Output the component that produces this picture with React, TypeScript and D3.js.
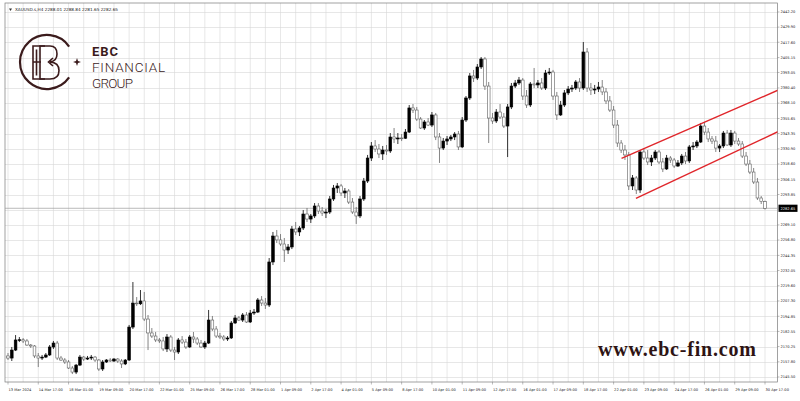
import { useEffect, useRef } from 'react';
import * as d3 from 'd3';

// H4 bars, oldest first: [open, high, low, close]
const candles: [number, number, number, number][] = [
  [2162.6, 2165.0, 2159.3, 2160.9], [2160.9, 2169.9, 2158.5, 2167.4], [2167.4, 2179.6, 2166.6, 2175.6], [2175.6, 2178.0, 2173.9, 2175.8],
  [2175.8, 2177.2, 2173.1, 2174.8], [2174.8, 2176.4, 2170.7, 2171.5], [2171.5, 2172.3, 2169.1, 2170.7], [2170.7, 2171.5, 2160.9, 2162.6],
  [2162.6, 2165.0, 2153.6, 2160.9], [2160.9, 2163.4, 2159.3, 2161.7], [2161.7, 2165.0, 2160.9, 2163.4], [2163.4, 2171.5, 2162.6, 2169.9],
  [2169.9, 2174.8, 2168.3, 2173.1], [2173.1, 2174.8, 2159.3, 2160.9], [2160.9, 2162.6, 2158.5, 2159.3], [2159.3, 2160.9, 2156.1, 2157.7],
  [2157.7, 2159.3, 2152.0, 2152.8], [2152.8, 2154.4, 2147.9, 2149.5], [2149.5, 2156.1, 2147.9, 2155.2], [2155.2, 2163.4, 2154.4, 2161.7],
  [2161.7, 2162.6, 2158.5, 2160.1], [2160.1, 2162.6, 2159.3, 2160.9], [2160.9, 2163.4, 2159.3, 2161.7], [2161.7, 2162.6, 2157.7, 2159.3],
  [2159.3, 2160.1, 2150.4, 2152.0], [2152.0, 2159.3, 2150.4, 2157.7], [2157.7, 2160.1, 2156.9, 2159.3], [2159.3, 2160.9, 2157.7, 2158.5],
  [2158.5, 2160.9, 2157.7, 2160.1], [2160.1, 2160.9, 2156.9, 2158.5], [2158.5, 2160.1, 2152.8, 2156.1], [2156.1, 2160.1, 2155.2, 2159.3],
  [2159.3, 2187.8, 2158.5, 2186.1], [2186.1, 2222.7, 2184.5, 2205.6], [2205.6, 2210.5, 2203.2, 2205.0], [2205.0, 2216.2, 2204.0, 2207.3],
  [2207.3, 2214.6, 2191.0, 2192.6], [2192.6, 2195.9, 2167.4, 2181.3], [2181.3, 2185.3, 2177.2, 2178.8], [2178.8, 2182.1, 2173.9, 2175.6],
  [2175.6, 2177.2, 2173.1, 2174.8], [2174.8, 2178.0, 2166.6, 2168.3], [2168.3, 2180.4, 2165.8, 2178.0], [2178.0, 2179.6, 2165.8, 2167.4],
  [2167.4, 2169.9, 2159.3, 2165.8], [2165.8, 2177.2, 2164.2, 2175.6], [2175.6, 2178.8, 2172.3, 2173.9], [2173.9, 2176.4, 2168.3, 2169.9],
  [2169.9, 2179.6, 2169.1, 2178.0], [2178.0, 2182.1, 2173.1, 2176.4], [2176.4, 2178.0, 2171.5, 2173.1], [2173.1, 2175.6, 2169.1, 2169.9],
  [2169.9, 2174.8, 2168.3, 2173.1], [2173.1, 2200.0, 2172.3, 2191.8], [2191.8, 2195.1, 2182.9, 2184.5], [2184.5, 2186.9, 2177.2, 2178.8],
  [2178.8, 2181.3, 2176.4, 2178.0], [2178.0, 2179.6, 2174.8, 2176.4], [2176.4, 2178.8, 2174.8, 2177.2], [2177.2, 2191.0, 2176.4, 2189.4],
  [2189.4, 2195.9, 2188.6, 2193.5], [2193.5, 2195.1, 2191.0, 2191.8], [2191.8, 2197.5, 2190.2, 2195.9], [2195.9, 2198.3, 2189.4, 2190.2],
  [2190.2, 2200.0, 2189.4, 2197.5], [2197.5, 2200.8, 2195.9, 2198.3], [2198.3, 2209.7, 2197.5, 2208.1], [2208.1, 2211.3, 2203.2, 2205.6],
  [2205.6, 2209.7, 2200.8, 2204.0], [2204.0, 2242.2, 2202.4, 2239.0], [2239.0, 2263.4, 2236.5, 2260.1], [2260.1, 2265.0, 2254.4, 2256.9],
  [2256.9, 2261.7, 2252.0, 2253.6], [2253.6, 2258.5, 2239.0, 2248.7], [2248.7, 2253.6, 2245.5, 2251.2], [2251.2, 2268.2, 2249.5, 2265.8],
  [2265.8, 2271.5, 2260.9, 2263.4], [2263.4, 2268.2, 2260.1, 2266.6], [2266.6, 2281.2, 2265.0, 2278.0], [2278.0, 2282.9, 2271.5, 2273.9],
  [2273.9, 2278.0, 2270.7, 2276.4], [2276.4, 2286.9, 2274.7, 2284.5], [2284.5, 2286.9, 2278.0, 2280.4], [2280.4, 2283.7, 2276.4, 2278.8],
  [2278.8, 2282.1, 2274.7, 2279.6], [2279.6, 2292.6, 2278.0, 2290.2], [2290.2, 2301.6, 2288.6, 2299.1], [2299.1, 2303.2, 2295.1, 2300.8],
  [2300.8, 2302.4, 2292.6, 2295.1], [2295.1, 2299.1, 2291.0, 2296.7], [2296.7, 2298.3, 2286.1, 2287.7], [2287.7, 2291.0, 2278.0, 2279.6],
  [2279.6, 2283.7, 2269.9, 2276.4], [2276.4, 2292.6, 2274.7, 2290.2], [2290.2, 2307.3, 2288.6, 2304.8], [2304.8, 2326.0, 2303.2, 2323.5],
  [2323.5, 2336.5, 2321.1, 2333.3], [2333.3, 2338.1, 2328.4, 2330.8], [2330.8, 2334.9, 2323.5, 2326.8], [2326.8, 2333.3, 2321.9, 2330.0],
  [2330.0, 2334.1, 2326.0, 2329.2], [2329.2, 2343.8, 2327.6, 2340.6], [2340.6, 2347.9, 2335.7, 2339.0], [2339.0, 2343.8, 2334.9, 2339.8],
  [2339.8, 2343.0, 2337.3, 2339.6], [2339.6, 2347.1, 2339.0, 2344.6], [2344.6, 2366.6, 2343.8, 2364.2], [2364.2, 2367.4, 2360.1, 2362.5],
  [2362.5, 2365.0, 2353.6, 2355.2], [2355.2, 2356.8, 2347.1, 2347.9], [2347.9, 2354.4, 2346.3, 2352.8], [2352.8, 2356.0, 2349.5, 2350.3],
  [2350.3, 2360.9, 2348.7, 2358.5], [2358.5, 2360.1, 2338.1, 2340.6], [2340.6, 2343.8, 2319.5, 2331.6], [2331.6, 2339.8, 2330.0, 2337.3],
  [2337.3, 2341.4, 2334.1, 2339.0], [2339.0, 2342.2, 2337.3, 2340.6], [2340.6, 2344.6, 2338.1, 2343.0], [2343.0, 2345.5, 2330.0, 2332.5],
  [2332.5, 2356.8, 2331.6, 2354.4], [2354.4, 2373.9, 2352.8, 2372.3], [2372.3, 2392.6, 2370.7, 2390.2], [2390.2, 2395.1, 2385.3, 2388.5],
  [2388.5, 2399.9, 2386.9, 2397.5], [2397.5, 2405.6, 2395.9, 2404.0], [2404.0, 2405.6, 2378.8, 2382.0], [2382.0, 2385.3, 2335.7, 2356.0],
  [2356.0, 2360.1, 2351.2, 2353.6], [2353.6, 2363.3, 2352.0, 2360.9], [2360.9, 2367.4, 2355.2, 2356.8], [2356.8, 2360.1, 2347.9, 2349.5],
  [2349.5, 2367.4, 2324.3, 2365.0], [2365.0, 2384.5, 2363.3, 2382.0], [2382.0, 2386.9, 2380.4, 2384.5], [2384.5, 2389.4, 2382.9, 2386.9],
  [2386.9, 2388.5, 2370.7, 2373.9], [2373.9, 2378.8, 2364.2, 2366.6], [2366.6, 2385.3, 2365.0, 2383.7], [2383.7, 2396.7, 2380.4, 2382.9],
  [2382.9, 2386.9, 2380.4, 2384.5], [2384.5, 2388.5, 2378.8, 2380.4], [2380.4, 2395.1, 2378.8, 2392.6], [2392.6, 2396.7, 2391.0, 2393.4],
  [2393.4, 2395.1, 2370.7, 2373.9], [2373.9, 2377.2, 2354.4, 2358.5], [2358.5, 2369.9, 2357.7, 2366.6], [2366.6, 2378.8, 2365.0, 2376.4],
  [2376.4, 2382.0, 2374.7, 2379.6], [2379.6, 2382.9, 2377.2, 2380.4], [2380.4, 2386.9, 2378.8, 2385.3], [2385.3, 2388.5, 2377.2, 2380.4],
  [2380.4, 2417.8, 2378.8, 2409.7], [2409.7, 2412.9, 2377.2, 2380.4], [2380.4, 2384.5, 2374.7, 2378.8], [2378.8, 2382.9, 2375.5, 2379.6],
  [2379.6, 2385.3, 2377.2, 2381.2], [2381.2, 2386.9, 2374.7, 2377.2], [2377.2, 2380.4, 2367.4, 2369.9], [2369.9, 2373.9, 2360.9, 2362.5],
  [2362.5, 2365.8, 2347.9, 2350.3], [2350.3, 2354.4, 2332.5, 2335.7], [2335.7, 2338.1, 2327.6, 2330.0], [2330.0, 2334.1, 2321.9, 2326.0],
  [2326.0, 2328.4, 2297.5, 2300.8], [2300.8, 2309.7, 2297.5, 2307.3], [2307.3, 2308.9, 2294.2, 2297.5], [2297.5, 2330.0, 2295.1, 2328.4],
  [2328.4, 2331.6, 2321.9, 2323.5], [2323.5, 2330.0, 2317.8, 2320.3], [2320.3, 2326.0, 2317.0, 2323.5], [2323.5, 2330.0, 2321.9, 2328.4],
  [2328.4, 2330.0, 2318.6, 2320.3], [2320.3, 2323.5, 2312.1, 2314.6], [2314.6, 2326.0, 2313.8, 2323.5], [2323.5, 2325.1, 2319.5, 2321.9],
  [2321.9, 2323.5, 2315.4, 2317.0], [2317.0, 2321.9, 2316.2, 2319.5], [2319.5, 2326.8, 2317.8, 2325.1], [2325.1, 2328.4, 2318.6, 2321.1],
  [2321.1, 2334.1, 2319.5, 2332.5], [2332.5, 2336.5, 2330.0, 2333.3], [2333.3, 2338.1, 2331.6, 2336.5], [2336.5, 2352.0, 2335.7, 2349.5],
  [2349.5, 2352.8, 2342.2, 2344.6], [2344.6, 2347.9, 2336.5, 2339.0], [2339.0, 2341.4, 2334.9, 2337.3], [2337.3, 2341.4, 2328.4, 2331.6],
  [2331.6, 2334.9, 2328.4, 2333.3], [2333.3, 2345.5, 2331.6, 2343.8], [2343.8, 2346.3, 2333.3, 2334.1], [2334.1, 2346.3, 2332.5, 2343.8],
  [2343.8, 2345.5, 2334.9, 2337.3], [2337.3, 2339.8, 2333.3, 2334.9], [2334.9, 2337.3, 2323.5, 2325.1], [2325.1, 2328.4, 2317.0, 2318.6],
  [2318.6, 2321.9, 2310.5, 2312.1], [2312.1, 2315.4, 2302.4, 2304.0], [2304.0, 2307.3, 2289.4, 2291.0], [2291.0, 2292.6, 2286.1, 2288.0],
  [2288.01, 2288.84, 2281.65, 2282.65],
];

const priceTicks = [
  2442.20, 2429.90, 2417.60, 2405.15, 2393.05, 2380.40, 2368.10, 2355.65, 2343.35, 2330.90, 2318.60, 2306.15,
  2293.85, 2269.10, 2256.80, 2244.35, 2232.05, 2219.60, 2207.30, 2194.85, 2182.55, 2170.25, 2157.80, 2145.50,
];
const gridPrices = [...priceTicks, 2281.49];

const timeLabels = [
  '13 Mar 2024', '14 Mar 17:00', '18 Mar 01:00', '19 Mar 09:00', '20 Mar 17:00', '22 Mar 01:00', '25 Mar 09:00',
  '26 Mar 17:00', '28 Mar 01:00', '1 Apr 09:00', '2 Apr 17:00', '4 Apr 01:00', '5 Apr 09:00', '8 Apr 17:00',
  '10 Apr 01:00', '11 Apr 09:00', '12 Apr 17:00', '16 Apr 01:00', '17 Apr 09:00', '18 Apr 17:00', '22 Apr 01:00',
  '23 Apr 09:00', '24 Apr 17:00', '26 Apr 01:00', '29 Apr 09:00', '30 Apr 17:00',
];

// channel trend lines: [bar index, price]
const channelUpper: [number, number][] = [[162.1, 2323.3], [203.4, 2378.6]];
const channelLower: [number, number][] = [[165.9, 2290.7], [203.4, 2344.9]];

const lastPrice = 2282.65;
const headerText = 'XAUUSD.s,H4  2288.01 2288.84 2281.65 2282.65';

const W = 800;
const H = 401;
const LOGO = '#3b1b1c';

export default function App() {
  const svgRef = useRef<SVGSVGElement | null>(null);

  useEffect(() => {
    if (!svgRef.current) return;
    const svg = d3.select(svgRef.current);
    svg.selectAll('*').remove();

    const plot = { left: 5, top: 3, right: 777.5, bottom: 382 };
    const x = d3.scaleLinear().domain([0, 200]).range([8, 765]);
    const y = d3.scaleLinear().domain([2145.5, 2442.2]).range([377, 12]);
    const barsPerLabel = 8;

    svg.append('rect').attr('width', W).attr('height', H).attr('fill', '#fff');

    svg.append('clipPath').attr('id', 'plotClip')
      .append('rect')
      .attr('x', plot.left).attr('y', plot.top)
      .attr('width', plot.right - plot.left).attr('height', plot.bottom - plot.top);

    // grid
    const grid = svg.append('g').attr('stroke', '#d6d6d6').attr('stroke-width', 0.6);
    gridPrices.forEach(p => {
      grid.append('line')
        .attr('x1', plot.left).attr('x2', plot.right)
        .attr('y1', Math.round(y(p)) + 0.5).attr('y2', Math.round(y(p)) + 0.5);
    });
    for (let i = 0; i <= 200; i += 4) {
      grid.append('line')
        .attr('x1', x(i)).attr('x2', x(i))
        .attr('y1', plot.top).attr('y2', plot.bottom);
    }

    // frame
    svg.append('rect')
      .attr('x', plot.left).attr('y', plot.top)
      .attr('width', plot.right - plot.left).attr('height', plot.bottom - plot.top)
      .attr('fill', 'none').attr('stroke', '#7a7a7a').attr('stroke-width', 0.7);

    // logo
    const logo = svg.append('g');
    const arc = d3.path();
    arc.arc(47, 62, 27, (35 * Math.PI) / 180, (325 * Math.PI) / 180);
    logo.append('path').attr('d', arc.toString())
      .attr('fill', 'none').attr('stroke', LOGO).attr('stroke-width', 2.2);
    logo.append('path')
      .attr('d', 'M45 46 H33 V79 H45 M33 62 H41 M36.5 49.5 V75.5')
      .attr('fill', 'none').attr('stroke', LOGO).attr('stroke-width', 1.6);
    logo.append('path')
      .attr('d', 'M40 46 H50 Q57 46 57 54 Q57 61 50 62 Q59 62.5 59 70.5 Q59 79 50 79 H40 Z M53 58 L48.5 62 L53 66')
      .attr('fill', 'none').attr('stroke', LOGO).attr('stroke-width', 1.6);
    logo.append('path')
      .attr('d', 'M77 58 L78 61 L81 62 L78 63 L77 66 L76 63 L73 62 L76 61 Z')
      .attr('fill', LOGO);
    const logoFont = 'Roboto, sans-serif';
    logo.append('text').attr('x', 92).attr('y', 55.5).text('EBC')
      .attr('font-family', logoFont).attr('font-weight', 700)
      .attr('font-size', 13).attr('fill', LOGO).attr('textLength', 26);
    logo.append('text').attr('x', 92).attr('y', 72).text('FINANCIAL')
      .attr('font-family', logoFont).attr('font-weight', 300)
      .attr('font-size', 13.5).attr('fill', LOGO).attr('textLength', 73);
    logo.append('text').attr('x', 92).attr('y', 88).text('GROUP')
      .attr('font-family', logoFont).attr('font-weight', 300)
      .attr('font-size', 13.5).attr('fill', LOGO).attr('textLength', 41);

    // current price line
    svg.append('line')
      .attr('x1', plot.left).attr('x2', plot.right)
      .attr('y1', y(lastPrice)).attr('y2', y(lastPrice))
      .attr('stroke', '#9a9a9a').attr('stroke-width', 0.7);

    // candles
    const bodyW = 2.7;
    const cg = svg.append('g').attr('clip-path', 'url(#plotClip)');
    const bar = cg.selectAll('g.bar').data(candles).enter().append('g').attr('class', 'bar');
    bar.append('line')
      .attr('x1', (d, i) => x(i)).attr('x2', (d, i) => x(i))
      .attr('y1', d => y(d[1])).attr('y2', d => y(d[2]))
      .attr('stroke', d => (d[3] >= d[0] ? '#000' : '#666'))
      .attr('stroke-width', 0.8);
    bar.append('rect')
      .attr('x', (d, i) => x(i) - bodyW / 2)
      .attr('width', bodyW)
      .attr('y', d => y(Math.max(d[0], d[3])))
      .attr('height', d => Math.max(0.8, Math.abs(y(d[0]) - y(d[3]))))
      .attr('fill', d => (d[3] >= d[0] ? '#000' : '#fff'))
      .attr('stroke', d => (d[3] >= d[0] ? '#000' : '#5e5e5e'))
      .attr('stroke-width', 0.6);

    // channel
    const chLine = d3.line<[number, number]>().x(d => x(d[0])).y(d => y(d[1]));
    [channelUpper, channelLower].forEach(c => {
      cg.append('path').attr('d', chLine(c))
        .attr('fill', 'none').attr('stroke', '#e0262b').attr('stroke-width', 1.4);
    });

    // watermark
    svg.append('text').attr('x', 598).attr('y', 356).text('www.ebc-fin.com')
      .attr('font-family', 'Liberation Serif, DejaVu Serif, serif').attr('font-weight', 700)
      .attr('font-size', 20).attr('fill', '#2e1414').attr('textLength', 158)
      .attr('lengthAdjust', 'spacing');

    // header
    svg.append('path').attr('d', 'M9 8.5 L12 8.5 L10.5 11 Z').attr('fill', '#333');
    svg.append('text').attr('x', 15).attr('y', 11.3).text(headerText)
      .attr('font-family', 'DejaVu Sans, sans-serif').attr('font-size', 4.2).attr('fill', '#222');

    // price axis
    const pa = svg.append('g').attr('font-family', 'DejaVu Sans, sans-serif')
      .attr('font-size', 3.6).attr('fill', '#222');
    priceTicks.forEach(p => {
      pa.append('line').attr('x1', plot.right).attr('x2', plot.right + 2)
        .attr('y1', y(p)).attr('y2', y(p)).attr('stroke', '#777').attr('stroke-width', 0.5);
      pa.append('text').attr('x', 780.5).attr('y', y(p) + 1.3).text(p.toFixed(2));
    });
    svg.append('rect').attr('x', 778.5).attr('y', y(lastPrice) - 3.6)
      .attr('width', 19).attr('height', 7.2).attr('fill', '#000');
    svg.append('text').attr('x', 780.5).attr('y', y(lastPrice) + 1.3).text(lastPrice.toFixed(2))
      .attr('font-family', 'DejaVu Sans, sans-serif').attr('font-size', 3.6).attr('fill', '#fff');

    // time axis
    const ta = svg.append('g').attr('font-family', 'DejaVu Sans, sans-serif')
      .attr('font-size', 3.6).attr('fill', '#222');
    timeLabels.forEach((t, k) => {
      const xi = x(k * barsPerLabel);
      ta.append('line').attr('x1', xi).attr('x2', xi)
        .attr('y1', plot.bottom).attr('y2', plot.bottom + 2.5)
        .attr('stroke', '#777').attr('stroke-width', 0.5);
      ta.append('text').attr('x', xi + 0.5).attr('y', 390.5).text(t);
    });
  }, []);

  return (
    <svg ref={svgRef} width={W} height={H}
      style={{ position: 'absolute', left: 0, top: 0, display: 'block' }} />
  );
}
